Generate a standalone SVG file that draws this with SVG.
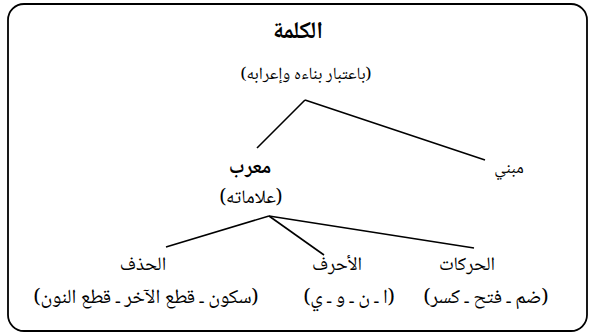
<svg xmlns="http://www.w3.org/2000/svg" width="595" height="334" viewBox="0 0 595 334">
<style>
text{font-family:"Noto Naskh Arabic","Noto Sans Arabic","DejaVu Sans",sans-serif;fill:#000;text-anchor:middle;direction:rtl;unicode-bidi:embed;font-size:19px}
.s{font-size:17px}
.g{font-size:20px}
.b{font-weight:bold;font-size:20px}
.t{font-size:24px;font-weight:bold}
line{stroke:#000;stroke-width:1.6}
</style>
<rect x="8" y="4" width="579" height="327" rx="16" ry="16" fill="#fff" stroke="#000" stroke-width="1.8"/>
<g id="connectors">
<line x1="305" y1="100" x2="257" y2="148"/>
<line x1="305" y1="100" x2="485" y2="160"/>
<line x1="269" y1="216" x2="166" y2="247"/>
<line x1="269" y1="216" x2="324" y2="255"/>
<line x1="269" y1="216" x2="474" y2="248"/>
</g>
<g id="root"><text class="t" x="298" y="38">الكلمة</text><text class="s" x="306" y="79">(باعتبار بناءه وإعرابه)</text></g>
<g id="muarab"><text class="b" x="250" y="173">معرب</text><text x="251" y="203">(علاماته)</text></g>
<g id="mabni"><text class="s" x="509" y="173">مبني</text></g>
<g id="harakat"><text x="467" y="270">الحركات</text><text class="g" x="486" y="303">(ضم ـ فتح ـ كسر)</text></g>
<g id="ahruf"><text x="337" y="270">الأحرف</text><text class="g" x="349" y="303">(ا ـ ن ـ و ـ ي)</text></g>
<g id="hadhf"><text x="143" y="270">الحذف</text><text class="g" x="146" y="303">(سكون ـ قطع الآخر ـ قطع النون)</text></g>
</svg>
